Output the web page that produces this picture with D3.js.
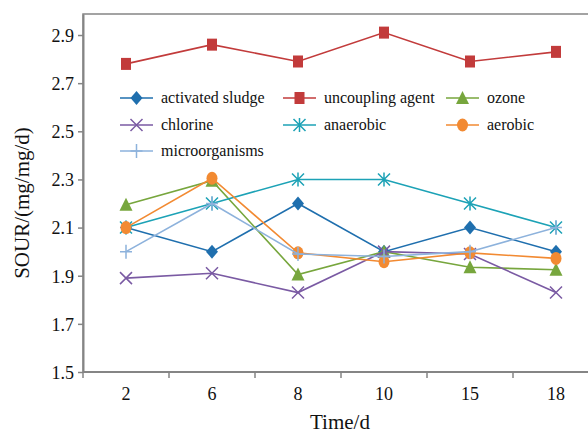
<!DOCTYPE html>
<html>
<head>
<meta charset="utf-8">
<script src="https://cdn.jsdelivr.net/npm/d3@7"></script>
<style>
  body { margin: 0; background: #fff; }
  svg { display: block; }
  svg text { font-family: "Liberation Serif", "Times New Roman", serif; }
</style>
</head>
<body>
<svg id="chart" width="588" height="434"></svg>
<script>
const days = ["2", "6", "8", "10", "15", "18"];
const yTicks = [1.5, 1.7, 1.9, 2.1, 2.3, 2.5, 2.7, 2.9];

const activatedSludge = [2.1, 2.0, 2.2, 2.0, 2.1, 2.0];
const uncouplingAgent = [2.78, 2.86, 2.79, 2.91, 2.79, 2.83];
const ozone = [2.195, 2.295, 1.905, 2.0, 1.935, 1.925];
const chlorine = [1.89, 1.91, 1.83, 2.0, 1.99, 1.83];
const anaerobic = [2.1, 2.2, 2.3, 2.3, 2.2, 2.1];
const aerobic = [2.1, 2.305, 1.995, 1.958, 1.995, 1.972];
const microorganisms = [2.0, 2.2, 1.99, 1.98, 2.0, 2.1];

const series = [
  { name: "activated sludge", values: activatedSludge, color: "#1f6fae", marker: "diamond" },
  { name: "uncoupling agent", values: uncouplingAgent, color: "#c23b3b", marker: "square" },
  { name: "ozone", values: ozone, color: "#77a63d", marker: "triangle" },
  { name: "chlorine", values: chlorine, color: "#7a5aa3", marker: "cross" },
  { name: "anaerobic", values: anaerobic, color: "#1ca2b6", marker: "asterisk" },
  { name: "aerobic", values: aerobic, color: "#f28a32", marker: "circle" },
  { name: "microorganisms", values: microorganisms, color: "#8db2dc", marker: "plus" }
];

const svg = d3.select("#chart");
const plotLeft = 83, plotTop = 14, plotBottom = 372, plotRight = 599;

const x = d3.scaleBand().domain(days).range([plotLeft, plotRight]);
const y = d3.scaleLinear().domain([1.5, 1.5 + (plotBottom - plotTop) / 240.7]).range([plotBottom, plotTop]);

// frame
svg.append("rect")
  .attr("x", plotLeft).attr("y", plotTop)
  .attr("width", plotRight - plotLeft).attr("height", plotBottom - plotTop)
  .attr("fill", "none").attr("stroke", "#858585").attr("stroke-width", 1.5);

// y axis
const yAxis = svg.append("g")
  .attr("transform", `translate(${plotLeft},0)`)
  .call(d3.axisLeft(y).tickValues(yTicks).tickFormat(d3.format(".1f")).tickSize(5).tickSizeOuter(0));
yAxis.attr("font-family", null);
yAxis.select(".domain").attr("stroke", "#858585").attr("stroke-width", 2);
yAxis.selectAll(".tick line").attr("stroke", "#858585").attr("stroke-width", 1.5);
yAxis.selectAll(".tick text")
  .attr("x", -9).attr("dy", "0.35em")
  .attr("font-size", 18).attr("fill", "#111");

// x axis: ticks between categories
const xAxis = svg.append("g").attr("transform", `translate(0,${plotBottom})`);
xAxis.append("line")
  .attr("x1", plotLeft).attr("x2", plotRight)
  .attr("stroke", "#858585").attr("stroke-width", 2);
xAxis.selectAll("line.tk")
  .data(days.concat(["end"]))
  .join("line")
  .attr("class", "tk")
  .attr("x1", (d, i) => plotLeft + i * x.bandwidth())
  .attr("x2", (d, i) => plotLeft + i * x.bandwidth())
  .attr("y1", 0).attr("y2", 6)
  .attr("stroke", "#858585").attr("stroke-width", 1.5);
xAxis.selectAll("text")
  .data(days)
  .join("text")
  .attr("x", d => x(d) + x.bandwidth() / 2)
  .attr("y", 28)
  .attr("text-anchor", "middle")
  .attr("font-size", 18).attr("fill", "#111")
  .text(d => d);

// axis titles
svg.append("text")
  .attr("x", 340).attr("y", 429)
  .attr("text-anchor", "middle")
  .attr("font-size", 21).attr("fill", "#111")
  .text("Time/d");
svg.append("text")
  .attr("transform", "translate(29,203) rotate(-90)")
  .attr("text-anchor", "middle")
  .attr("font-size", 21).attr("fill", "#111")
  .text("SOUR/(mg/mg/d)");

function drawMarker(g, type, color) {
  if (type === "diamond") {
    g.append("path").attr("d", "M0,-7L6,0L0,7L-6,0Z").attr("fill", color);
  } else if (type === "square") {
    g.append("rect").attr("x", -5).attr("y", -6).attr("width", 10).attr("height", 12).attr("fill", color);
  } else if (type === "triangle") {
    g.append("path").attr("d", "M0,-7L6.5,6L-6.5,6Z").attr("fill", color);
  } else if (type === "circle") {
    g.append("ellipse").attr("rx", 5.5).attr("ry", 6.5).attr("fill", color);
  } else if (type === "cross") {
    g.append("path").attr("d", "M-6,-6L6,6M-6,6L6,-6").attr("stroke", color).attr("stroke-width", 1.5);
  } else if (type === "plus") {
    g.append("path").attr("d", "M-6,0L6,0M0,-7L0,7").attr("stroke", color).attr("stroke-width", 1.5);
  } else if (type === "asterisk") {
    g.append("path").attr("d", "M-6,-6L6,6M-6,6L6,-6M0,-7L0,7").attr("stroke", color).attr("stroke-width", 1.5);
  }
}

const line = d3.line()
  .x((d, i) => x(days[i]) + x.bandwidth() / 2)
  .y(d => y(d));

series.forEach(s => {
  const g = svg.append("g");
  g.append("path")
    .attr("d", line(s.values))
    .attr("fill", "none")
    .attr("stroke", s.color)
    .attr("stroke-width", 1.6);
  s.values.forEach((v, i) => {
    const m = g.append("g")
      .attr("transform", `translate(${x(days[i]) + x.bandwidth() / 2},${y(v)})`);
    drawMarker(m, s.marker, s.color);
  });
});

// legend
const legendCols = [120, 283, 446];
const legendRows = [98, 125, 151];
const legend = svg.append("g");
series.forEach((s, i) => {
  const lx = legendCols[i % 3];
  const ly = legendRows[Math.floor(i / 3)];
  const item = legend.append("g").attr("transform", `translate(${lx},${ly})`);
  item.append("line")
    .attr("x1", 0).attr("x2", 33)
    .attr("stroke", s.color).attr("stroke-width", 1.6);
  const m = item.append("g").attr("transform", "translate(16.5,0)");
  drawMarker(m, s.marker, s.color);
  item.append("text")
    .attr("x", 41).attr("dy", "0.32em")
    .attr("font-size", 16).attr("fill", "#111")
    .text(s.name);
});
</script>
</body>
</html>
